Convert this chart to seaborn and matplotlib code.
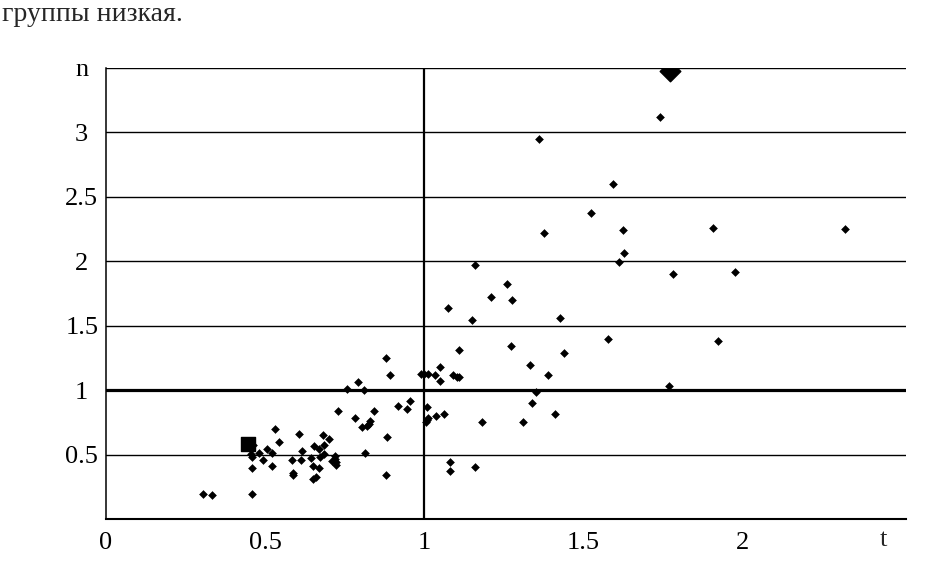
import numpy as np
import pandas as pd
import matplotlib
matplotlib.use("Agg")
import matplotlib.pyplot as plt
import seaborn as sns

# observed points (t, n)
t_vals = [0.306, 0.333, 0.458, 0.458, 0.455, 0.458, 0.463, 0.482, 0.495, 0.507,
          0.521, 0.521, 0.531, 0.544, 0.586, 0.587, 0.587, 0.608, 0.612, 0.616,
          0.644, 0.650, 0.652, 0.659, 0.654, 0.669, 0.670, 0.674, 0.683, 0.686,
          0.686, 0.702, 0.711, 0.720, 0.721, 0.722, 0.722, 0.728, 0.757, 0.783,
          0.791, 0.803, 0.819, 0.827, 0.812, 0.815, 0.830, 0.841, 0.879, 0.879,
          0.884, 0.892, 0.916, 0.946, 0.954, 0.990, 1.000, 1.010, 1.007, 1.013,
          1.005, 1.007, 1.034, 1.037, 1.050, 1.049, 1.063, 1.080, 1.080, 1.075,
          1.091, 1.102, 1.110, 1.109, 1.151, 1.159, 1.159, 1.180, 1.208, 1.259,
          1.272, 1.276, 1.310, 1.331, 1.339, 1.352, 1.360, 1.377, 1.389, 1.410,
          1.426, 1.438, 1.523, 1.576, 1.593, 1.610, 1.623, 1.627, 1.740, 1.769,
          1.782, 1.907, 1.923, 1.974, 2.320]
n_vals = [0.194, 0.184, 0.194, 0.398, 0.504, 0.478, 0.576, 0.514, 0.455, 0.545,
          0.514, 0.411, 0.698, 0.597, 0.455, 0.359, 0.339, 0.656, 0.455, 0.527,
          0.473, 0.411, 0.312, 0.323, 0.566, 0.545, 0.393, 0.483, 0.649, 0.576,
          0.504, 0.618, 0.452, 0.490, 0.463, 0.442, 0.419, 0.835, 1.010, 0.780,
          1.060, 0.711, 0.721, 0.734, 0.998, 0.514, 0.760, 0.835, 1.248, 0.339,
          0.638, 1.114, 0.876, 0.853, 0.915, 1.126, 1.126, 1.126, 0.866, 0.783,
          0.754, 0.770, 1.116, 0.800, 1.176, 1.072, 0.814, 0.442, 0.370, 1.641,
          1.116, 1.103, 1.103, 1.310, 1.548, 1.971, 0.400, 0.752, 1.723, 1.827,
          1.341, 1.703, 0.752, 1.194, 0.897, 0.984, 2.951, 2.220, 1.116, 0.814,
          1.558, 1.289, 2.375, 1.393, 2.602, 1.992, 2.240, 2.064, 3.119, 1.031,
          1.899, 2.261, 1.382, 1.920, 2.250]

# highlighted points
diamond_t, diamond_n = [1.771], [3.473]
square_t, square_n = [0.446], [0.584]

x_ticks = [0, 0.5, 1, 1.5, 2, 2.5]
x_labels = ["0", "0.5", "1", "1.5", "2", ""]
y_ticks = [0.5, 1, 1.5, 2, 2.5, 3, 3.5]
y_labels = ["0.5", "1", "1.5", "2", "2.5", "3", "n"]

sns.set_theme(style="white")
plt.rcParams["font.family"] = ["Liberation Serif", "DejaVu Serif"]

df = pd.DataFrame({"t": t_vals, "n": n_vals})

fig = plt.figure(figsize=(9.45, 5.77), dpi=100)
ax = fig.add_axes([0.1119, 0.1005, 0.8469, 0.7817])

# grid lines
for yv in y_ticks:
    ax.axhline(yv, color="black", lw=2.3 if yv == 1 else 1.0, zorder=1)
ax.axvline(1, color="black", lw=1.6, zorder=1)

sns.scatterplot(data=df, x="t", y="n", marker="D", s=16, color="black",
                edgecolor="black", linewidth=0.4, ax=ax, zorder=3)
ax.scatter(diamond_t, diamond_n, marker="D", s=110, color="black", zorder=4)
ax.scatter(square_t, square_n, marker="s", s=100, color="black", zorder=4)

ax.set_xlim(0, 2.512)
ax.set_ylim(0, 3.5)
ax.set_xticks(x_ticks)
ax.set_xticklabels(x_labels, fontsize=19)
ax.set_yticks(y_ticks)
ax.set_yticklabels(y_labels, fontsize=19)
for lab in ax.get_yticklabels():
    lab.set_horizontalalignment("center")
ax.tick_params(axis="y", direction="out", length=4.3, width=1.0, pad=13, colors="black")
ax.tick_params(axis="x", direction="out", length=3, width=1.0, pad=6, colors="black")
ax.set_xlabel("")
ax.set_ylabel("")
ax.text(2.44, -0.075, "t", ha="center", va="top", fontsize=19)

for side in ["top", "right"]:
    ax.spines[side].set_visible(False)
ax.spines["left"].set_color("black")
ax.spines["left"].set_linewidth(1.1)
ax.spines["bottom"].set_color("black")
ax.spines["bottom"].set_linewidth(1.5)

fig.text(0.002, 0.997, "группы низкая.", ha="left", va="top", fontsize=20)

fig.savefig("out.png", dpi=100, facecolor="white")
